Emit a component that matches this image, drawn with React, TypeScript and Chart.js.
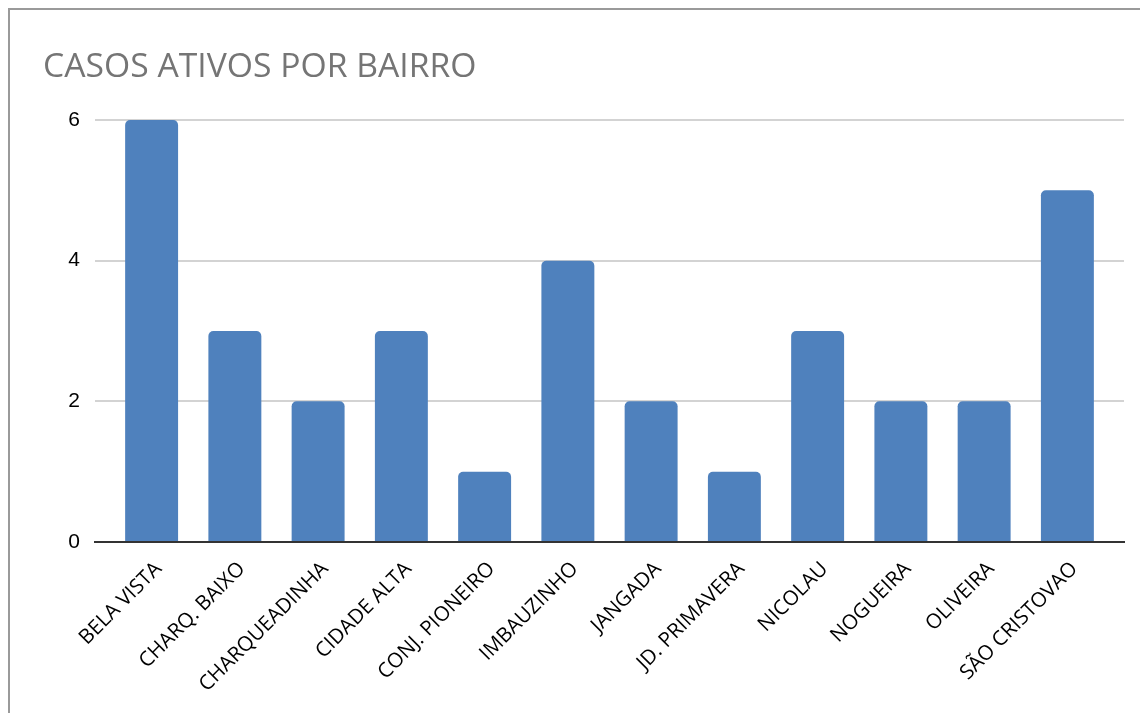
import React, { useEffect, useRef } from "react";
import { Chart, registerables } from "chart.js";

Chart.register(...registerables);

const titleText = "CASOS ATIVOS POR BAIRRO";
const categories = [
  "BELA VISTA",
  "CHARQ. BAIXO",
  "CHARQUEADINHA",
  "CIDADE ALTA",
  "CONJ. PIONEIRO",
  "IMBAUZINHO",
  "JANGADA",
  "JD. PRIMAVERA",
  "NICOLAU",
  "NOGUEIRA",
  "OLIVEIRA",
  "SÃO CRISTOVAO",
];
const values = [6, 3, 2, 3, 1, 4, 2, 1, 3, 2, 2, 5];
const yTicks = [0, 2, 4, 6];

export default function App() {
  const canvasRef = useRef<HTMLCanvasElement | null>(null);

  useEffect(() => {
    if (!canvasRef.current) return;
    const chart = new Chart(canvasRef.current, {
      type: "bar",
      data: {
        datasets: [
          {
            label: "Casos ativos",
            data: values.map((v, i) => ({ x: i, y: v })),
            backgroundColor: "#4f81bd",
            borderWidth: 0,
            borderRadius: { topLeft: 5, topRight: 5, bottomLeft: 0, bottomRight: 0 },
            borderSkipped: "bottom",
            categoryPercentage: 1,
            barPercentage: 0.636,
          },
        ],
      },
      options: {
        animation: false,
        responsive: false,
        layout: { padding: { left: 33, right: 24, top: 0, bottom: 0 } },
        plugins: {
          legend: { display: false },
          tooltip: { enabled: false },
          title: {
            display: true,
            text: titleText,
            align: "start",
            color: "#757575",
            font: { family: "'Open Sans'", size: 33.7, weight: "normal", lineHeight: 1.2 },
            padding: { top: 37, bottom: 32.6 },
          },
        },
        scales: {
          x: {
            type: "linear",
            min: -0.68,
            max: 11.68,
            offset: false,
            grid: { display: false, drawTicks: false },
            border: { display: true, color: "#333333", width: 2 },
            afterBuildTicks: (scale: any) => {
              scale.ticks = categories.map((_, i) => ({ value: i }));
            },
            afterFit: (scale: any) => {
              scale.height = 171;
            },
            ticks: {
              autoSkip: false,
              minRotation: 45,
              maxRotation: 45,
              padding: 15,
              labelOffset: 7,
              color: "#000000",
              font: { family: "'Open Sans'", size: 20.5 },
              callback: (value: any) => categories[Math.round(Number(value))] ?? "",
            },
          },
          y: {
            min: 0,
            max: 6,
            afterBuildTicks: (scale: any) => {
              scale.ticks = yTicks.map((v) => ({ value: v }));
            },
            afterFit: (scale: any) => {
              scale.width = 52;
            },
            grid: {
              drawTicks: false,
              lineWidth: 2,
              color: (ctx: any) => (ctx.tick && ctx.tick.value === 0 ? "rgba(0,0,0,0)" : "#d3d3d3"),
            },
            border: { display: false },
            ticks: {
              padding: 15,
              color: "#000000",
              font: { family: "'Liberation Sans'", size: 21 },
            },
          },
        },
      },
    });
    return () => chart.destroy();
  }, []);

  return (
    <div
      style={{
        width: 1140,
        height: 705,
        boxSizing: "border-box",
        borderTop: "2px solid #9a9a9a",
        borderLeft: "2px solid #9a9a9a",
        background: "#ffffff",
        overflow: "hidden",
      }}
    >
      <canvas ref={canvasRef} width={1138} height={703} style={{ display: "block" }} />
    </div>
  );
}
